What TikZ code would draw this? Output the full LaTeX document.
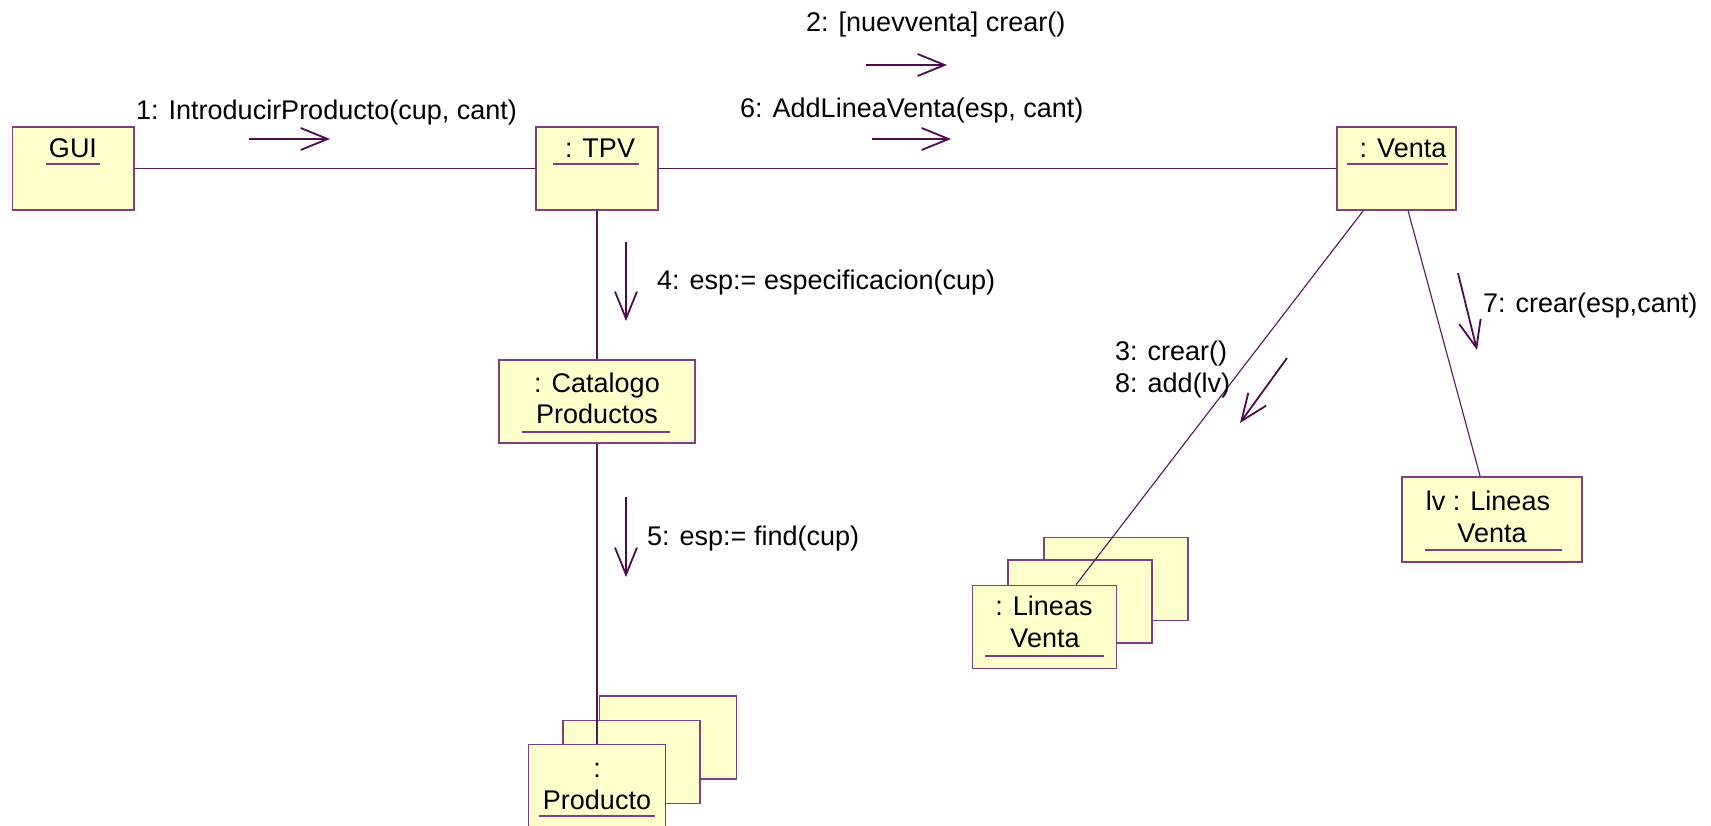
\documentclass[tikz,border=0pt]{standalone}
\usepackage{fontspec}
\setmainfont{Liberation Sans}
\usetikzlibrary{arrows.meta,calc}
\definecolor{objfill}{RGB}{255,255,204}
\definecolor{objdraw}{RGB}{128,64,128}
\definecolor{linecol}{RGB}{90,20,90}
\definecolor{arrcol}{RGB}{80,10,80}
\begin{document}
\begin{tikzpicture}[x=1pt,y=-1pt,
  obj/.style={draw=objdraw,fill=objfill,line width=1.8pt,inner sep=0pt,rectangle},
  conn/.style={draw=linecol,line width=1.1pt},
  msg/.style={draw=arrcol,line width=1.8pt,-{Straight Barb[length=27pt,width=22pt,line width=1.8pt]}},
  lbl/.style={font=\fontsize{27}{32}\selectfont,anchor=base west,inner sep=0pt,text=black},
  otx/.style={font=\fontsize{27}{32}\selectfont,anchor=base,inner sep=0pt,text=black},
  ul/.style={draw=objdraw,line width=1.5pt}]
\useasboundingbox[fill=white] (0,0) rectangle (1711,826);

% objects
\node[obj,minimum width=121.5pt,minimum height=83pt] (gui) at (73.25,168.5) {};
\node[obj,minimum width=122pt,minimum height=83pt] (tpv) at (597,168.5) {};
\node[obj,minimum width=119pt,minimum height=83pt] (venta) at (1396.5,168.5) {};
\node[obj,minimum width=196pt,minimum height=83pt] (cat) at (597,401.5) {};
\node[obj,minimum width=180pt,minimum height=85pt] (lv) at (1492,519.5) {};
\node[obj,minimum width=144pt,minimum height=83pt] (lin3) at (1116,579) {};
\node[obj,minimum width=144pt,minimum height=83pt] (lin2) at (1080,601.5) {};
\node[obj,minimum width=144pt,minimum height=83pt] (lin1) at (1044.5,627) {};
\node[obj,minimum width=137pt,minimum height=83pt] (prod3) at (668,737.5) {};
\node[obj,minimum width=137pt,minimum height=83pt] (prod2) at (631.5,762) {};
\node[obj,minimum width=137pt,minimum height=83pt] (prod1) at (597,786) {};

% object texts
\node[otx] (tgui) at (73,158) {GUI};
\draw[ul] (46,164) -- (100,164);
\node[otx] (ttpv) at (600,158) {: TPV};
\draw[ul] (553,164) -- (639,164);
\node[otx] (tventa) at (1403,158) {: Venta};
\draw[ul] (1347,164) -- (1448,164);
\node[otx] (tcat1) at (597,392) {: Catalogo};
\node[otx] (tcat2) at (597,423) {Productos};
\draw[ul] (522,432) -- (670,432);
\node[otx] (tlv1) at (1488,510) {lv : Lineas};
\node[otx] (tlv2) at (1492,542) {Venta};
\draw[ul] (1425,550) -- (1562,550);
\node[otx] (tlin1) at (1044,615) {: Lineas};
\node[otx] (tlin2) at (1045,647) {Venta};
\draw[ul] (985,656) -- (1104,656);
\node[otx] (tprod1) at (597,777) {:};
\node[otx] (tprod2) at (597,809) {Producto};
\draw[ul] (539,816) -- (655,816);

% links
\draw[conn] (gui) -- (tpv);
\draw[conn] (tpv) -- (venta);
\draw[conn] (tpv) -- (cat);
\draw[conn] (cat) -- (prod1);
\draw[conn] ($(venta.south west)+(27,0)$) -- ($(lin1.north west)+(104.5,0)$);
\draw[conn] ($(venta.south west)+(72,0)$) -- ($(lv.north west)+(79,0)$);

% messages
\coordinate (m1s) at (249,139); \coordinate (m1e) at (330,139);
\coordinate (m2s) at (866,65);  \coordinate (m2e) at (947,65);
\coordinate (m6s) at (872,139); \coordinate (m6e) at (951,139);
\coordinate (m4s) at (626,242); \coordinate (m4e) at (626,321);
\coordinate (m5s) at (626,497); \coordinate (m5e) at (626,577);
\coordinate (m3s) at (1287,358); \coordinate (m3e) at (1240,423);
\coordinate (m7s) at (1458,273); \coordinate (m7e) at (1477,350);
\draw[msg] (m1s) -- (m1e);
\draw[msg] (m2s) -- (m2e);
\draw[msg] (m6s) -- (m6e);
\draw[msg] (m4s) -- (m4e);
\draw[msg] (m5s) -- (m5e);
\draw[msg] (m3s) -- (m3e);
\draw[msg] (m7s) -- (m7e);

% labels
\node[lbl] (l1) at (136,120) {1: IntroducirProducto(cup, cant)};
\node[lbl] (l2) at (806,32) {2: [nuevventa] crear()};
\node[lbl] (l6) at (740,118) {6: AddLineaVenta(esp, cant)};
\node[lbl] (l4) at (657,290) {4: esp:= especificacion(cup)};
\node[lbl] (l5) at (647,545) {5: esp:= find(cup)};
\node[lbl] (l3) at (1115,360) {3: crear()};
\node[lbl] (l8) at (1115,392) {8: add(lv)};
\node[lbl] (l7) at (1483,313) {7: crear(esp,cant)};
\end{tikzpicture}
\end{document}
